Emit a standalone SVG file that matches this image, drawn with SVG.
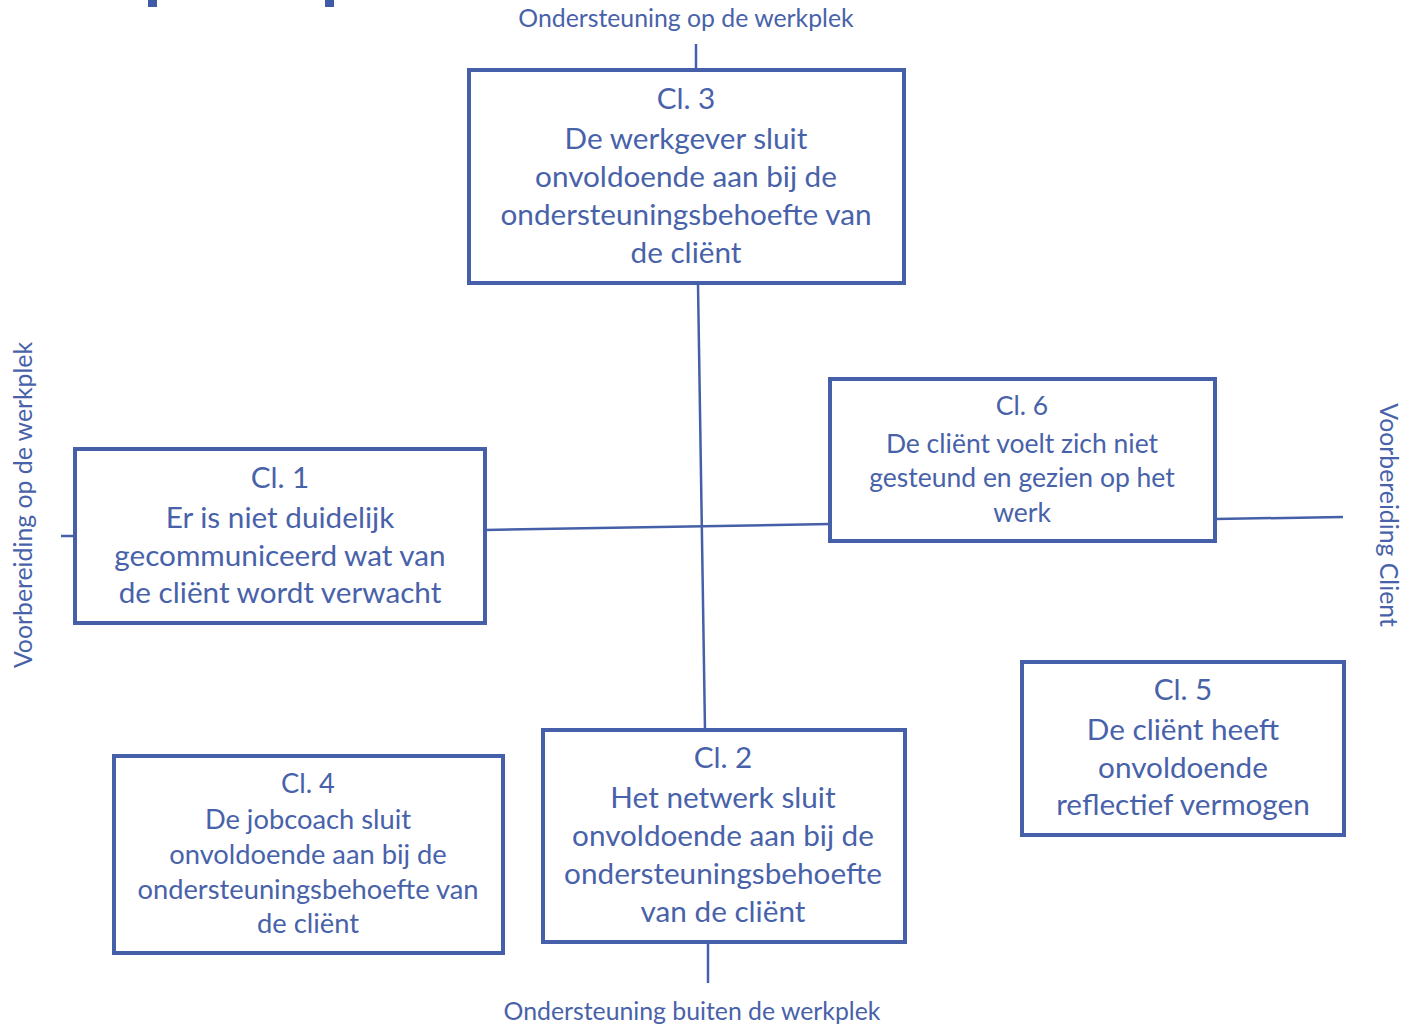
<svg xmlns="http://www.w3.org/2000/svg" width="1405" height="1026" viewBox="0 0 1405 1026">
<style>
.box{fill:#fff;stroke:#4560A8;stroke-width:4}
.ln{stroke:#4560A8;stroke-width:2.5;fill:none}
text{font-family:Lato,"Open Sans","Liberation Sans",sans-serif;fill:#4862AA;text-anchor:middle}
.t28{font-size:29.7px}
.t6{font-size:26.5px}
.t4{font-size:27.3px}
.lab{font-size:24.8px}
</style>
<rect width="1405" height="1026" fill="#fff"/>
<rect x="148" y="0" width="9" height="7" fill="#3F5BA8"/>
<rect x="325" y="0" width="9" height="7" fill="#3F5BA8"/>
<g id="connectors">
<line class="ln" x1="696" y1="44" x2="696" y2="70"/>
<line class="ln" x1="698" y1="284" x2="705" y2="730"/>
<line class="ln" x1="708" y1="942" x2="708" y2="983"/>
<line class="ln" x1="61" y1="536" x2="75" y2="536"/>
<line class="ln" x1="485" y1="530" x2="830" y2="524"/>
<line class="ln" x1="1215" y1="519" x2="1343" y2="517"/>
</g>
<g id="label-top"><text class="lab" x="686" y="27">Ondersteuning op de werkplek</text></g>
<g id="label-bottom"><text class="lab" x="692" y="1020">Ondersteuning buiten de werkplek</text></g>
<g id="label-left"><text class="lab" transform="translate(32,505) rotate(-90)">Voorbereiding op de werkplek</text></g>
<g id="label-right"><text class="lab" transform="translate(1380,515) rotate(90)">Voorbereiding Client</text></g>
<g id="cl3">
<rect class="box" x="469" y="70" width="435" height="213"/>
<text class="t28"><tspan x="686" y="109">Cl. 3</tspan><tspan x="686" y="149">De werkgever sluit</tspan><tspan x="686" y="187">onvoldoende aan bij de</tspan><tspan x="686" y="225">ondersteuningsbehoefte van</tspan><tspan x="686" y="263">de cliënt</tspan></text>
</g>
<g id="cl1">
<rect class="box" x="75" y="449" width="410" height="174"/>
<text class="t28"><tspan x="280" y="488">Cl. 1</tspan><tspan x="280" y="528">Er is niet duidelijk</tspan><tspan x="280" y="566">gecommuniceerd wat van</tspan><tspan x="280" y="603">de cliënt wordt verwacht</tspan></text>
</g>
<g id="cl6">
<rect class="box" x="830" y="379" width="385" height="162"/>
<text class="t6"><tspan x="1022" y="415">Cl. 6</tspan><tspan x="1022" y="453">De cliënt voelt zich niet</tspan><tspan x="1022" y="487">gesteund en gezien op het</tspan><tspan x="1022" y="522">werk</tspan></text>
</g>
<g id="cl4">
<rect class="box" x="114" y="756" width="389" height="197"/>
<text class="t4"><tspan x="308" y="793">Cl. 4</tspan><tspan x="308" y="829">De jobcoach sluit</tspan><tspan x="308" y="864">onvoldoende aan bij de</tspan><tspan x="308" y="899">ondersteuningsbehoefte van</tspan><tspan x="308" y="933">de cliënt</tspan></text>
</g>
<g id="cl2">
<rect class="box" x="543" y="730" width="362" height="212"/>
<text class="t28"><tspan x="723" y="768">Cl. 2</tspan><tspan x="723" y="808">Het netwerk sluit</tspan><tspan x="723" y="846">onvoldoende aan bij de</tspan><tspan x="723" y="884">ondersteuningsbehoefte</tspan><tspan x="723" y="922">van de cliënt</tspan></text>
</g>
<g id="cl5">
<rect class="box" x="1022" y="662" width="322" height="173"/>
<text class="t28"><tspan x="1183" y="700">Cl. 5</tspan><tspan x="1183" y="740">De cliënt heeft</tspan><tspan x="1183" y="778">onvoldoende</tspan><tspan x="1183" y="815">reflectief vermogen</tspan></text>
</g>
</svg>
